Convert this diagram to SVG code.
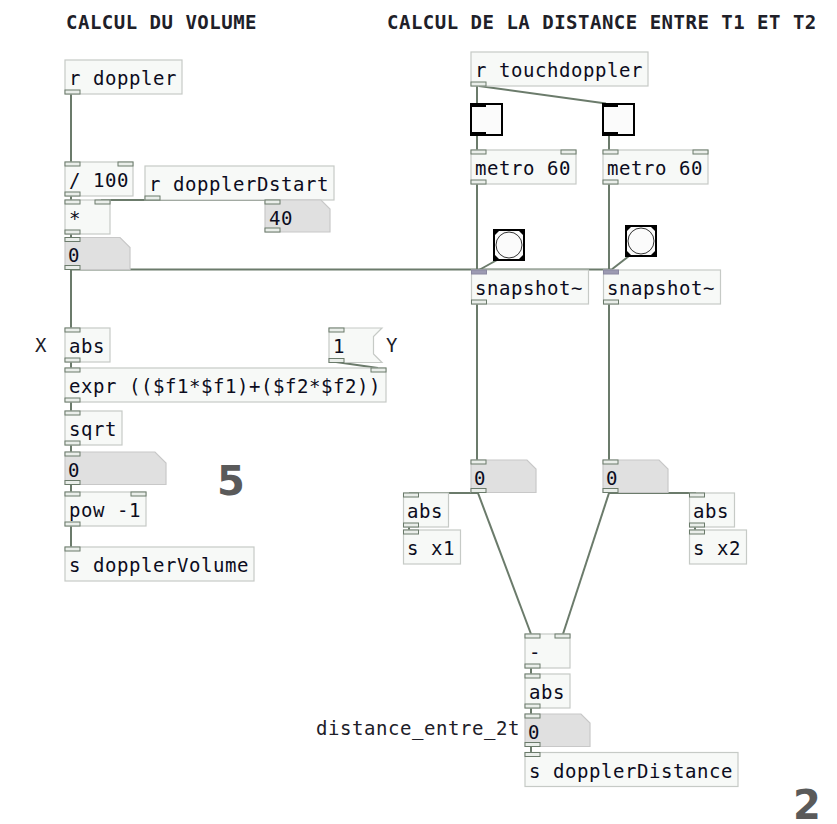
<svg xmlns="http://www.w3.org/2000/svg" width="837" height="824" viewBox="0 0 837 824">
<style>
.t{font-family:"DejaVu Sans Mono",monospace;font-size:19px;letter-spacing:0.56px;fill:#0c0c20}
.c{font-family:"DejaVu Sans Mono",monospace;font-size:19px;letter-spacing:0.56px;fill:#202028}
.h{font-weight:bold;letter-spacing:0.5px}
.big{font-family:"DejaVu Sans",sans-serif;font-weight:bold;font-size:40px;fill:#5a5a5a}
.box{fill:#f7f9f7;stroke:#c6cac6;stroke-width:1.2}
.num{fill:#e0e0e0;stroke:#c8c8c8;stroke-width:1.2}
.io{fill:#eaeeea;stroke:#6b7b6b;stroke-width:1}
.sio{fill:#9c9ab2;stroke:#8a88a0;stroke-width:1}
.w{fill:none;stroke:#6b7b6b;stroke-width:2}
.gui{fill:#fbfbfb;stroke:#000;stroke-width:2}
.blk{fill:#000}
</style>

<rect width="837" height="824" fill="#ffffff"/>

<g id="comments">
<text class="c h" x="66" y="28.5">CALCUL DU VOLUME</text>
<text class="c h" x="387" y="28.5">CALCUL DE LA DISTANCE ENTRE T1 ET T2</text>
<text class="c" x="35" y="352">X</text>
<text class="c" x="386" y="352">Y</text>
<text class="c" x="316" y="735">distance_entre_2t</text>
<text class="big" x="217" y="494.5">5</text>
<text class="big" x="793" y="818.5">2</text>
</g>

<g id="connectors">
<line class="w" x1="71" y1="94" x2="71" y2="162"/>
<line class="w" x1="71" y1="196" x2="71" y2="200"/>
<line class="w" x1="101" y1="200" x2="272" y2="200"/>
<line class="w" x1="71" y1="234" x2="71" y2="238"/>
<line class="w" x1="71" y1="269.5" x2="611" y2="269.5"/>
<line class="w" x1="71" y1="269.5" x2="71" y2="328"/>
<line class="w" x1="477" y1="86" x2="477" y2="104"/>
<line class="w" x1="479" y1="86" x2="606" y2="103.5"/>
<line class="w" x1="477" y1="135" x2="477" y2="150"/>
<line class="w" x1="609" y1="135" x2="609" y2="150"/>
<line class="w" x1="477" y1="184" x2="477" y2="270"/>
<line class="w" x1="609" y1="184" x2="609" y2="270"/>
<line class="w" stroke-width="1.5" x1="497" y1="260" x2="479" y2="270"/>
<line class="w" stroke-width="1.5" x1="629" y1="256" x2="611" y2="270"/>
<line class="w" x1="477" y1="304" x2="477" y2="460"/>
<line class="w" x1="609" y1="304" x2="609" y2="460"/>
<line class="w" x1="409" y1="493" x2="478" y2="493"/>
<line class="w" x1="609" y1="493" x2="696" y2="493"/>
<line class="w" x1="478" y1="493" x2="531" y2="634"/>
<line class="w" x1="609" y1="493" x2="563" y2="634"/>
<line class="w" x1="409" y1="527" x2="409" y2="530"/>
<line class="w" x1="695" y1="527" x2="695" y2="530"/>
<line class="w" x1="71" y1="362" x2="71" y2="368"/>
<line class="w" x1="336" y1="362" x2="378" y2="368"/>
<line class="w" x1="71" y1="402" x2="71" y2="411"/>
<line class="w" x1="71" y1="445" x2="71" y2="452"/>
<line class="w" x1="71" y1="484" x2="71" y2="492"/>
<line class="w" x1="71" y1="526" x2="71" y2="547"/>
<line class="w" x1="531" y1="668" x2="531" y2="674"/>
<line class="w" x1="531" y1="708" x2="531" y2="714"/>
<line class="w" x1="531" y1="746" x2="531" y2="752.5"/>
</g>

<g id="r-doppler">
<rect class="box" x="65" y="60" width="117" height="34"/>
<text class="t" x="69" y="85">r doppler</text>
<rect class="io" x="65" y="90" width="15" height="4"/>
</g>

<g id="div-100">
<rect class="box" x="65" y="162" width="68" height="34"/>
<text class="t" x="69" y="187">/ 100</text>
<rect class="io" x="65" y="162" width="15" height="4"/>
<rect class="io" x="118" y="162" width="15" height="4"/>
<rect class="io" x="65" y="192" width="15" height="4"/>
</g>

<g id="r-dopplerDstart">
<rect class="box" x="145" y="166" width="189" height="34"/>
<text class="t" x="149" y="191">r dopplerDstart</text>
<rect class="io" x="145" y="196" width="15" height="4"/>
</g>

<g id="mul">
<rect class="box" x="65" y="200" width="45" height="34"/>
<text class="t" x="69" y="225">*</text>
<rect class="io" x="65" y="200" width="15" height="4"/>
<rect class="io" x="95" y="200" width="15" height="4"/>
<rect class="io" x="65" y="230" width="15" height="4"/>
</g>

<g id="num-40">
<path class="num" d="M265,200 H321 L330,209 V232 H265 Z"/>
<text class="t" x="269" y="225">40</text>
<rect class="io" x="265" y="200" width="15" height="4"/>
<rect class="io" x="265" y="228" width="15" height="4"/>
</g>

<g id="num-0a">
<path class="num" d="M65,237.5 H120 L130,247.5 V269.5 H65 Z"/>
<text class="t" x="68" y="262">0</text>
<rect class="io" x="65" y="237.5" width="15" height="4"/>
<rect class="io" x="65" y="265.5" width="15" height="4"/>
</g>

<g id="abs-x">
<rect class="box" x="65" y="328" width="45" height="34"/>
<text class="t" x="69" y="353">abs</text>
<rect class="io" x="65" y="328" width="15" height="4"/>
<rect class="io" x="65" y="358" width="15" height="4"/>
</g>

<g id="msg-1">
<path class="box" d="M329,328 H382 L373.5,336.5 V354 L382,362.5 H329 Z"/>
<text class="t" x="333" y="353">1</text>
<rect class="io" x="329" y="328" width="15" height="4"/>
<rect class="io" x="329" y="358.5" width="15" height="4"/>
</g>

<g id="expr">
<rect class="box" x="65" y="368" width="321" height="34"/>
<text class="t" x="69" y="393">expr (($f1*$f1)+($f2*$f2))</text>
<rect class="io" x="65" y="368" width="15" height="4"/>
<rect class="io" x="371" y="368" width="15" height="4"/>
<rect class="io" x="65" y="398" width="15" height="4"/>
</g>

<g id="sqrt">
<rect class="box" x="65" y="411" width="57" height="34"/>
<text class="t" x="69" y="436">sqrt</text>
<rect class="io" x="65" y="411" width="15" height="4"/>
<rect class="io" x="65" y="441" width="15" height="4"/>
</g>

<g id="num-0b">
<path class="num" d="M65,452 H155 L166,463 V484.5 H65 Z"/>
<text class="t" x="68" y="477">0</text>
<rect class="io" x="65" y="452" width="15" height="4"/>
<rect class="io" x="65" y="480.5" width="15" height="4"/>
</g>

<g id="pow">
<rect class="box" x="65" y="492" width="81" height="34"/>
<text class="t" x="69" y="517">pow -1</text>
<rect class="io" x="65" y="492" width="15" height="4"/>
<rect class="io" x="131" y="492" width="15" height="4"/>
<rect class="io" x="65" y="522" width="15" height="4"/>
</g>

<g id="s-dopplerVolume">
<rect class="box" x="65" y="547" width="189" height="34"/>
<text class="t" x="69" y="572">s dopplerVolume</text>
<rect class="io" x="65" y="547" width="15" height="4"/>
</g>

<g id="r-touchdoppler">
<rect class="box" x="471" y="52" width="177" height="34"/>
<text class="t" x="475" y="77">r touchdoppler</text>
<rect class="io" x="471" y="82" width="15" height="4"/>
</g>

<g id="toggle-1">
<rect class="gui" x="471" y="104" width="31" height="31"/>
<rect class="blk" x="471" y="103" width="15" height="4"/>
<rect class="blk" x="471" y="132" width="15" height="4"/>
</g>

<g id="toggle-2">
<rect class="gui" x="603" y="104" width="31" height="31"/>
<rect class="blk" x="603" y="103" width="15" height="4"/>
<rect class="blk" x="603" y="132" width="15" height="4"/>
</g>

<g id="metro-1">
<rect class="box" x="471" y="150" width="105" height="34"/>
<text class="t" x="475" y="175">metro 60</text>
<rect class="io" x="471" y="150" width="15" height="4"/>
<rect class="io" x="561" y="150" width="15" height="4"/>
<rect class="io" x="471" y="180" width="15" height="4"/>
</g>

<g id="metro-2">
<rect class="box" x="603" y="150" width="105" height="34"/>
<text class="t" x="607" y="175">metro 60</text>
<rect class="io" x="603" y="150" width="15" height="4"/>
<rect class="io" x="693" y="150" width="15" height="4"/>
<rect class="io" x="603" y="180" width="15" height="4"/>
</g>

<g id="bang-1">
<rect class="gui" x="494" y="230" width="30" height="30"/>
<circle cx="509" cy="245" r="13" fill="none" stroke="#333" stroke-width="1"/>
<path class="blk" d="M495,231 h4 l-4,4 Z M523,231 h-4 l4,4 Z M495,259 h4 l-4,-4 Z M523,259 h-4 l4,-4 Z"/>
</g>

<g id="bang-2">
<rect class="gui" x="626" y="226" width="30" height="30"/>
<circle cx="641" cy="241" r="13" fill="none" stroke="#333" stroke-width="1"/>
<path class="blk" d="M627,227 h4 l-4,4 Z M655,227 h-4 l4,4 Z M627,255 h4 l-4,-4 Z M655,255 h-4 l4,-4 Z"/>
</g>

<g id="snapshot-1">
<rect class="box" x="471.5" y="270" width="117" height="34"/>
<text class="t" x="475" y="295">snapshot~</text>
<rect class="sio" x="471.5" y="270" width="15" height="4"/>
<rect class="io" x="471.5" y="300" width="15" height="4"/>
</g>

<g id="snapshot-2">
<rect class="box" x="603.5" y="270" width="117" height="34"/>
<text class="t" x="607" y="295">snapshot~</text>
<rect class="sio" x="603.5" y="270" width="15" height="4"/>
<rect class="io" x="603.5" y="300" width="15" height="4"/>
</g>

<g id="num-t1">
<path class="num" d="M471,460 H527 L536,469 V492.5 H471 Z"/>
<text class="t" x="474" y="485">0</text>
<rect class="io" x="471" y="460" width="15" height="4"/>
<rect class="io" x="471" y="488.5" width="15" height="4"/>
</g>

<g id="num-t2">
<path class="num" d="M603,460 H659 L668,469 V492.5 H603 Z"/>
<text class="t" x="606" y="485">0</text>
<rect class="io" x="603" y="460" width="15" height="4"/>
<rect class="io" x="603" y="488.5" width="15" height="4"/>
</g>

<g id="abs-1">
<rect class="box" x="403.5" y="493" width="45" height="34"/>
<text class="t" x="407" y="518">abs</text>
<rect class="io" x="403.5" y="493" width="15" height="4"/>
<rect class="io" x="403.5" y="523" width="15" height="4"/>
</g>

<g id="s-x1">
<rect class="box" x="403.5" y="530" width="57" height="34"/>
<text class="t" x="407" y="555">s x1</text>
<rect class="io" x="403.5" y="530" width="15" height="4"/>
</g>

<g id="abs-2">
<rect class="box" x="689.5" y="493" width="45" height="34"/>
<text class="t" x="693" y="518">abs</text>
<rect class="io" x="689.5" y="493" width="15" height="4"/>
<rect class="io" x="689.5" y="523" width="15" height="4"/>
</g>

<g id="s-x2">
<rect class="box" x="689.5" y="530" width="57" height="34"/>
<text class="t" x="693" y="555">s x2</text>
<rect class="io" x="689.5" y="530" width="15" height="4"/>
</g>

<g id="minus">
<rect class="box" x="525" y="634" width="45" height="34"/>
<text class="t" x="529" y="659">-</text>
<rect class="io" x="525" y="634" width="15" height="4"/>
<rect class="io" x="555" y="634" width="15" height="4"/>
<rect class="io" x="525" y="664" width="15" height="4"/>
</g>

<g id="abs-d">
<rect class="box" x="525" y="674" width="45" height="34"/>
<text class="t" x="529" y="699">abs</text>
<rect class="io" x="525" y="674" width="15" height="4"/>
<rect class="io" x="525" y="704" width="15" height="4"/>
</g>

<g id="num-d">
<path class="num" d="M525,714 H581 L590,723 V746.5 H525 Z"/>
<text class="t" x="528" y="739">0</text>
<rect class="io" x="525" y="714" width="15" height="4"/>
<rect class="io" x="525" y="742.5" width="15" height="4"/>
</g>

<g id="s-dopplerDistance">
<rect class="box" x="525" y="752.5" width="213" height="34"/>
<text class="t" x="529" y="777.5">s dopplerDistance</text>
<rect class="io" x="525" y="752.5" width="15" height="4"/>
</g>
</svg>
